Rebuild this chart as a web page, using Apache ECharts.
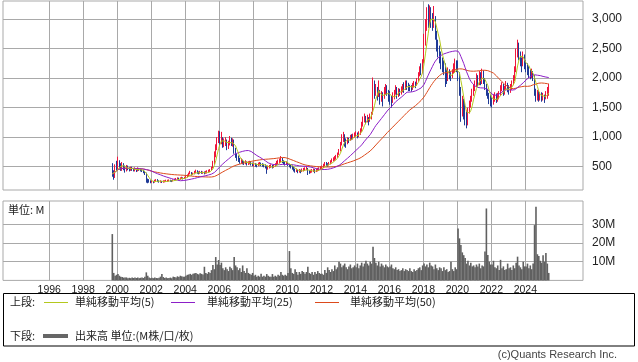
<!DOCTYPE html>
<html><head><meta charset="utf-8">
<script src="https://cdn.jsdelivr.net/npm/echarts@6/dist/echarts.min.js"></script>
<style>html,body{margin:0;padding:0;background:#fff}#c{width:638px;height:362px}</style>
</head><body><div id="c"></div>
<script>
// ---- data (monthly, Sep 1999 .. May 2025) ----
const startYear = 1999, startMonth = 9, firstOpen = 500;
const closes = [
380,330,520,470,
560,520,470,540,500,430,500,470,450,480,460,440,
450,440,460,450,440,430,420,390,270,260,250,240,
250,240,260,270,260,250,250,240,250,255,260,260,
265,260,255,270,280,290,300,290,300,310,300,310,
330,350,380,400,370,380,400,420,400,390,410,400,
400,390,400,410,420,440,480,560,700,820,950,1000,
930,980,870,900,940,860,880,960,900,920,780,700,
650,620,580,600,570,560,580,550,560,570,550,540,
540,530,520,540,550,540,530,520,510,470,490,500,
510,500,510,530,560,580,600,630,590,570,550,560,
540,520,500,480,450,430,440,420,430,420,440,450,
460,470,420,410,420,430,440,420,440,450,460,480,
490,520,550,540,530,550,580,600,620,640,660,700,
760,880,980,1000,940,900,960,950,1000,990,1020,1040,
1050,1030,1060,1100,1200,1300,1340,1280,1320,1260,1350,1400,
1900,1750,1820,1700,1780,1650,1720,1680,1760,1820,1750,1700,
1650,1600,1700,1750,1820,1700,1780,1760,1800,1850,1830,1900,
1880,1850,1830,1820,1860,1900,1880,1950,2050,2150,2100,2250,
2650,2900,3050,2950,3100,3000,2900,3000,2750,2600,2500,2400,
2300,2200,2150,2050,2000,2100,2050,2000,2100,2150,2250,2200,
2050,1800,1500,1600,1450,1350,1250,1450,1550,1650,1750,1820,
1900,2000,1900,2050,1950,2100,1950,1850,1780,1700,1650,1600,
1580,1650,1700,1620,1680,1720,1800,1850,1760,1800,1880,1820,
1780,1850,1900,1980,2150,2450,2550,2400,2300,2200,2350,2250,
2200,2150,2100,2050,2100,2000,1750,1700,1750,1680,1720,1650,
1700,1650,1720,1780,1880
];
const highs = [
560,440,540,600,
670,610,560,580,560,520,530,520,490,500,500,480,
490,470,490,480,470,460,450,430,400,300,290,270,
270,260,280,290,290,270,270,260,270,270,280,280,
285,280,275,285,300,310,320,315,320,330,320,330,
350,370,400,430,410,400,430,450,440,420,430,430,
420,420,430,440,450,460,500,600,760,880,1000,1110,
1100,1090,1000,980,1000,960,940,1020,990,980,960,820,
720,690,650,640,620,600,610,590,590,600,580,570,
570,560,550,570,580,570,560,550,540,520,520,530,
540,530,540,560,600,620,640,680,650,610,590,590,
580,550,540,520,500,470,470,450,460,450,470,480,
490,500,480,440,450,460,470,460,470,480,490,510,
520,550,580,580,560,580,610,640,660,680,700,740,
800,920,1050,1090,1050,980,1000,990,1040,1050,1060,1080,
1100,1080,1100,1150,1260,1350,1400,1360,1380,1340,1400,1430,
2010,1960,1900,1850,1960,1800,1780,1760,1850,1900,1880,1800,
1780,1700,1760,1800,1880,1850,1830,1820,1860,1900,1930,1960,
1960,1920,1890,1880,1920,1950,1940,2000,2100,2200,2250,2320,
2750,3000,3200,3250,3230,3200,3100,3220,3050,2800,2650,2550,
2450,2350,2300,2250,2150,2180,2150,2100,2150,2250,2330,2300,
2300,2100,1850,1700,1650,1600,1450,1500,1620,1700,1820,1900,
1960,2080,2050,2120,2100,2160,2130,2000,1900,1820,1750,1720,
1680,1720,1760,1740,1750,1780,1880,1930,1900,1870,1950,1920,
1880,1900,1960,2050,2200,2500,2650,2600,2450,2350,2450,2400,
2300,2250,2200,2150,2160,2120,2050,1820,1800,1780,1760,1760,
1750,1720,1780,1850,1900
];
const lows = [
330,280,310,430,
440,470,430,430,440,400,420,440,420,430,430,420,
420,410,420,430,420,410,390,360,230,220,230,220,
230,220,230,250,240,230,230,225,230,235,240,245,
250,245,240,250,265,270,280,275,280,290,285,295,
310,320,340,370,350,360,370,390,380,370,380,380,
380,370,380,385,400,410,430,470,540,660,780,900,
850,880,820,830,850,780,800,860,850,840,720,650,
600,580,550,560,540,530,540,520,530,540,520,510,
500,500,490,510,520,510,500,490,470,380,450,470,
480,470,480,500,520,540,560,580,560,540,520,530,
510,490,470,450,420,400,410,390,400,390,410,420,
430,440,360,380,390,400,410,390,410,420,430,450,
460,480,510,510,500,520,540,570,590,600,620,650,
700,760,860,920,840,820,880,900,940,950,960,990,
1000,980,1000,1040,1090,1180,1250,1220,1250,1200,1260,1300,
1380,1650,1700,1620,1680,1550,1600,1520,1650,1720,1700,1600,
1550,1500,1580,1640,1720,1650,1680,1700,1720,1760,1750,1800,
1800,1780,1780,1770,1800,1840,1830,1870,1940,2030,2050,2080,
2250,2550,2800,2850,2900,2850,2800,2850,2650,2450,2350,2250,
2150,2100,2050,1850,1900,1950,1980,1950,2000,2080,2100,2100,
1950,1700,1260,1350,1300,1200,1150,1200,1400,1500,1600,1700,
1780,1850,1850,1880,1880,1900,1900,1800,1700,1650,1560,1520,
1500,1550,1600,1580,1600,1640,1700,1780,1700,1720,1800,1760,
1720,1750,1800,1880,1950,2100,2350,2300,2200,2100,2200,2150,
2100,2050,2000,1980,2000,1950,1700,1600,1620,1600,1620,1600,
1620,1580,1640,1650,1700
];
const volumes = [
24.8,4.0,2.5,3.0,
3.4,2.5,2.0,1.8,1.5,1.5,1.6,1.2,1.4,1.2,1.5,1.3,
1.5,1.3,1.6,1.2,1.4,1.5,1.3,2.0,4.3,2.5,1.6,1.2,
1.4,1.2,1.5,1.3,1.2,1.4,2.0,3.4,1.8,1.3,1.5,1.2,
1.3,1.5,1.2,2.0,1.8,1.5,2.2,1.8,2.5,2.2,1.9,2.0,
2.5,3.0,3.2,3.5,3.0,3.5,3.8,4.0,3.5,3.2,3.8,3.5,
3.2,7.3,4.0,3.5,4.5,4.0,5.5,8.2,6.0,12.5,8.5,10.9,
8.2,9.5,6.5,5.5,7.0,6.0,5.0,7.3,6.5,5.5,12.5,8.0,
7.0,5.5,6.5,4.5,8.0,5.0,4.0,6.5,4.0,3.5,3.0,4.0,
2.5,3.0,2.0,2.5,2.0,3.5,2.0,2.5,2.0,3.4,2.5,2.0,
2.0,3.4,2.0,2.5,2.0,3.0,2.5,4.5,3.0,2.5,3.0,2.5,
4.0,15.7,6.5,4.0,3.5,6.0,4.5,3.0,4.5,3.5,5.0,4.5,
3.5,4.5,7.3,4.0,3.5,4.5,3.0,4.5,3.5,5.0,4.0,3.5,
3.5,3.0,5.5,4.0,7.0,5.5,4.5,6.0,5.0,8.0,6.0,7.0,
10.0,9.0,7.0,8.0,9.0,7.0,6.0,7.5,8.5,6.5,7.0,8.0,
7.0,9.0,6.5,8.0,9.5,7.5,9.0,10.5,9.0,8.0,10.0,9.0,
18.0,12.0,9.5,8.0,10.0,7.5,9.0,8.0,7.0,8.5,7.5,7.0,
7.5,8.5,6.5,6.0,7.0,5.5,6.0,5.0,5.5,6.5,5.0,6.0,
5.5,5.0,6.5,5.0,4.5,6.0,5.0,5.5,6.5,7.0,5.5,8.0,
9.0,7.5,8.5,7.0,9.5,8.0,7.5,6.0,8.5,6.5,5.5,7.0,
6.5,5.0,7.0,5.5,6.0,4.5,5.0,10.0,6.0,5.0,7.0,6.0,
27.8,22.5,19.0,15.0,13.5,12.0,9.0,10.5,8.0,9.5,7.5,8.0,
7.0,8.5,7.5,9.0,6.5,8.0,7.5,15.5,38.5,13.6,10.0,8.5,
8.5,10.5,7.0,6.5,8.0,5.5,11.0,6.5,7.5,5.5,6.0,9.0,
6.5,7.0,5.5,8.0,6.5,9.5,12.7,8.0,7.0,6.0,10.0,7.5,
7.5,9.0,6.5,8.0,6.0,9.0,29.6,39.4,14.0,13.0,10.5,9.5,
13.5,10.0,14.7,9.0,4.0
];
const yearTicks = [1996,1998,2000,2002,2004,2006,2008,2010,2012,2014,2016,2018,2020,2022,2024];
const priceTicks = [500,1000,1500,2000,2500,3000];
const volumeTicks = [10,20,30];
const maPeriods = [5,25,50];

// ---- build ----
const timeOf = i => { const m = startMonth - 1 + i; return startYear + Math.floor(m/12) + ((m%12)+0.5)/12; };
const candles = closes.map((c,i)=>[timeOf(i), i===0?firstOpen:closes[i-1], c, lows[i], highs[i]]);
const vols = volumes.map((v,i)=>[timeOf(i), v]);
function sma(p){ return closes.map((c,i)=>{ const s=Math.max(0,i-p+1); let sum=0; for(let k=s;k<=i;k++) sum+=closes[k]; return [timeOf(i), sum/(i-s+1)]; }); }

const gridColor = '#a9a9a9';
const xMin = 1993.28, xMax = 2027.39;
const latin = "'Liberation Sans', Arial, sans-serif";
const jp = "'Noto Sans CJK JP', sans-serif";
const maColors = ['#b4c81e', '#8c1fc8', '#dc4a1c'];

const chart = echarts.init(document.getElementById('c'));
const xAx = (gi, showLabel) => ({
  type:'value', gridIndex:gi, min:xMin, max:xMax,
  axisLine:{show:false}, axisTick:{show:false, customValues:yearTicks},
  axisLabel:{show:showLabel, customValues:yearTicks, formatter:v=>String(v), fontSize:10.5, margin:4, color:'#222', fontFamily:latin},
  splitLine:{show:true, lineStyle:{color:gridColor, width:1}}
});
chart.setOption({
  animation:false,
  grid:[
    {left:3, top:1, width:580, height:189, show:true, borderColor:gridColor, borderWidth:1},
    {left:3, top:201, width:580, height:79.4, show:true, borderColor:gridColor, borderWidth:1}
  ],
  xAxis:[xAx(0,false), xAx(1,true)],
  yAxis:[
    {type:'value', gridIndex:0, position:'right', min:106, max:3305,
     axisLine:{show:false}, axisTick:{show:false, customValues:priceTicks},
     axisLabel:{customValues:priceTicks, formatter:v=>v.toLocaleString('en-US'), fontSize:12, margin:9, color:'#222', fontFamily:latin},
     splitLine:{show:true, lineStyle:{color:gridColor, width:1}}},
    {type:'value', gridIndex:1, position:'right', min:0, max:42.5,
     axisLine:{show:false}, axisTick:{show:false, customValues:volumeTicks},
     axisLabel:{customValues:volumeTicks, formatter:v=>v+'M', fontSize:12, margin:9, color:'#222', fontFamily:latin},
     splitLine:{show:true, lineStyle:{color:gridColor, width:1}}}
  ],
  series:[
    {type:'candlestick', xAxisIndex:0, yAxisIndex:0, data:candles, encode:{x:0, y:[1,2,3,4]},
     barWidth:1.3,
     itemStyle:{color:'#f0143c', color0:'#1f3a96', borderColor:'#f0143c', borderColor0:'#1f3a96', borderWidth:1}},
    {type:'line', xAxisIndex:0, yAxisIndex:0, data:sma(maPeriods[2]), showSymbol:false, lineStyle:{color:maColors[2], width:1}, silent:true},
    {type:'line', xAxisIndex:0, yAxisIndex:0, data:sma(maPeriods[1]), showSymbol:false, lineStyle:{color:maColors[1], width:1}, silent:true},
    {type:'line', xAxisIndex:0, yAxisIndex:0, data:sma(maPeriods[0]), showSymbol:false, lineStyle:{color:maColors[0], width:1}, silent:true},
    {type:'bar', xAxisIndex:1, yAxisIndex:1, data:vols, barWidth:1.6, itemStyle:{color:'#606060'}}
  ],
  graphic:[
    {type:'text', left:8, top:204, style:{text:'単位: M', font:"11px "+jp, fill:'#222'}},
    {type:'rect', shape:{x:3.5, y:293.5, width:631, height:52.5}, style:{fill:'none', stroke:'#000', lineWidth:1}},
    {type:'text', x:10, y:302, style:{text:'上段:', font:"11px "+jp, fill:'#222', verticalAlign:'middle'}},
    {type:'line', shape:{x1:44, y1:302.5, x2:68, y2:302.5}, style:{stroke:maColors[0], lineWidth:1}},
    {type:'text', x:75, y:302, style:{text:'単純移動平均(5)', font:"11px "+jp, fill:'#222', verticalAlign:'middle'}},
    {type:'line', shape:{x1:171, y1:302.5, x2:195, y2:302.5}, style:{stroke:maColors[1], lineWidth:1}},
    {type:'text', x:207, y:302, style:{text:'単純移動平均(25)', font:"11px "+jp, fill:'#222', verticalAlign:'middle'}},
    {type:'line', shape:{x1:315, y1:302.5, x2:339, y2:302.5}, style:{stroke:maColors[2], lineWidth:1}},
    {type:'text', x:350, y:302, style:{text:'単純移動平均(50)', font:"11px "+jp, fill:'#222', verticalAlign:'middle'}},
    {type:'text', x:10, y:336, style:{text:'下段:', font:"11px "+jp, fill:'#222', verticalAlign:'middle'}},
    {type:'line', shape:{x1:43, y1:336, x2:68, y2:336}, style:{stroke:'#666666', lineWidth:4}},
    {type:'text', x:75, y:336, style:{text:'出来高 単位:(M株/口/枚)', font:"11px "+jp, fill:'#222', verticalAlign:'middle'}},
    {type:'text', x:617, y:355, style:{text:'(c)Quants Research Inc.', font:"11px "+latin, fill:'#444', align:'right', verticalAlign:'middle'}}
  ]
});
</script></body></html>
